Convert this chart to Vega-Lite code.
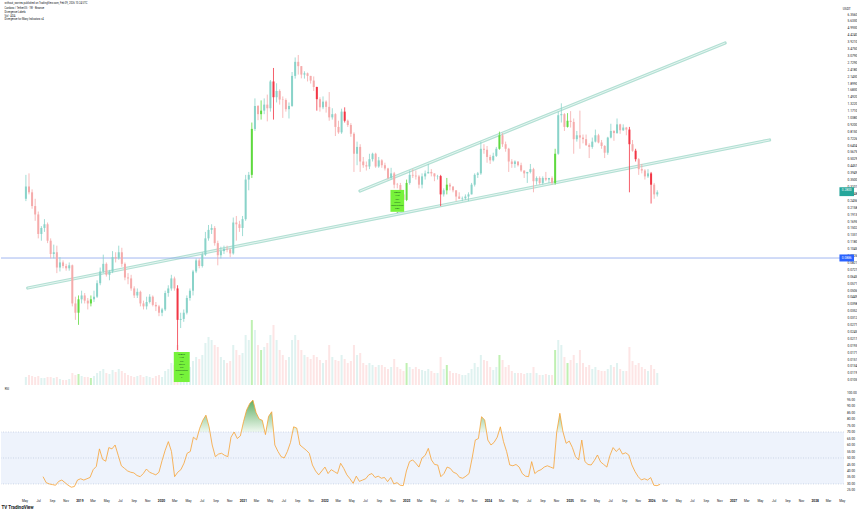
{
"$schema":"https://vega.github.io/schema/vega-lite/v6.json",
"padding":0,"spacing":0,"background":"white",
"config":{"view":{"stroke":null},"font":"Roboto","axis":{"grid":false,"domain":false,"ticks":false,"labelFont":"Roboto"}},
"datasets":{
"k":[
{"t":"2018-04-16","o":0.25,"h":0.38,"l":0.24,"c":0.31,"v":8},
{"t":"2018-04-30","o":0.31,"h":0.39,"l":0.27,"c":0.28,"v":10},
{"t":"2018-05-14","o":0.28,"h":0.295,"l":0.21,"c":0.22,"v":9},
{"t":"2018-05-28","o":0.22,"h":0.25,"l":0.17,"c":0.19,"v":8},
{"t":"2018-06-11","o":0.19,"h":0.2,"l":0.125,"c":0.135,"v":9},
{"t":"2018-06-25","o":0.135,"h":0.155,"l":0.12,"c":0.15,"v":7},
{"t":"2018-07-09","o":0.15,"h":0.175,"l":0.14,"c":0.16,"v":7},
{"t":"2018-07-23","o":0.16,"h":0.165,"l":0.115,"c":0.12,"v":8,"r":35.6},
{"t":"2018-08-06","o":0.12,"h":0.125,"l":0.088,"c":0.095,"v":8,"r":31},
{"t":"2018-08-20","o":0.095,"h":0.112,"l":0.088,"c":0.098,"v":7,"r":30},
{"t":"2018-09-03","o":0.098,"h":0.11,"l":0.068,"c":0.075,"v":8,"r":29.5},
{"t":"2018-09-17","o":0.075,"h":0.09,"l":0.07,"c":0.082,"v":6,"r":29},
{"t":"2018-10-01","o":0.082,"h":0.085,"l":0.074,"c":0.077,"v":5,"r":32},
{"t":"2018-10-15","o":0.077,"h":0.08,"l":0.071,"c":0.074,"v":5,"r":33},
{"t":"2018-10-29","o":0.074,"h":0.082,"l":0.071,"c":0.078,"v":6,"r":31},
{"t":"2018-11-12","o":0.078,"h":0.079,"l":0.038,"c":0.04,"v":12,"r":29},
{"t":"2018-11-26","o":0.04,"h":0.045,"l":0.03,"c":0.034,"v":10,"r":27.5},
{"t":"2018-12-10","o":0.034,"h":0.046,"l":0.0275,"c":0.043,"v":11,"r":28,"hl":1},
{"t":"2018-12-24","o":0.043,"h":0.05,"l":0.04,"c":0.046,"v":9,"r":33},
{"t":"2019-01-07","o":0.046,"h":0.048,"l":0.04,"c":0.042,"v":8,"r":34},
{"t":"2019-01-21","o":0.042,"h":0.044,"l":0.036,"c":0.04,"v":8,"r":33},
{"t":"2019-02-04","o":0.04,"h":0.046,"l":0.038,"c":0.043,"v":7,"r":34,"hl":1},
{"t":"2019-02-18","o":0.043,"h":0.05,"l":0.041,"c":0.045,"v":9,"r":35},
{"t":"2019-03-04","o":0.045,"h":0.06,"l":0.044,"c":0.057,"v":12,"r":41},
{"t":"2019-03-18","o":0.057,"h":0.075,"l":0.055,"c":0.07,"v":14,"r":43.5},
{"t":"2019-04-01","o":0.07,"h":0.094,"l":0.068,"c":0.08,"v":16,"r":57},
{"t":"2019-04-15","o":0.08,"h":0.082,"l":0.064,"c":0.066,"v":12,"r":49},
{"t":"2019-04-29","o":0.066,"h":0.072,"l":0.06,"c":0.07,"v":11,"r":47.5},
{"t":"2019-05-13","o":0.07,"h":0.1,"l":0.068,"c":0.09,"v":15,"r":58},
{"t":"2019-05-27","o":0.09,"h":0.098,"l":0.082,"c":0.088,"v":13,"r":57},
{"t":"2019-06-10","o":0.088,"h":0.11,"l":0.086,"c":0.098,"v":16,"r":60},
{"t":"2019-06-24","o":0.098,"h":0.106,"l":0.076,"c":0.08,"v":14,"r":52},
{"t":"2019-07-08","o":0.08,"h":0.082,"l":0.06,"c":0.063,"v":12,"r":44},
{"t":"2019-07-22","o":0.063,"h":0.068,"l":0.056,"c":0.062,"v":10,"r":42},
{"t":"2019-08-05","o":0.062,"h":0.066,"l":0.05,"c":0.052,"v":9,"r":40},
{"t":"2019-08-19","o":0.052,"h":0.054,"l":0.044,"c":0.046,"v":8,"r":39},
{"t":"2019-09-02","o":0.046,"h":0.052,"l":0.044,"c":0.049,"v":9,"r":38.5},
{"t":"2019-09-16","o":0.049,"h":0.05,"l":0.038,"c":0.04,"v":10,"r":36.5},
{"t":"2019-09-30","o":0.04,"h":0.042,"l":0.036,"c":0.038,"v":8,"r":35.6},
{"t":"2019-10-14","o":0.038,"h":0.045,"l":0.036,"c":0.041,"v":9,"r":38},
{"t":"2019-10-28","o":0.041,"h":0.047,"l":0.04,"c":0.045,"v":8,"r":41.5},
{"t":"2019-11-11","o":0.045,"h":0.046,"l":0.038,"c":0.039,"v":7,"r":39},
{"t":"2019-11-25","o":0.039,"h":0.041,"l":0.035,"c":0.038,"v":9,"r":38},
{"t":"2019-12-09","o":0.038,"h":0.039,"l":0.032,"c":0.034,"v":10,"r":37},
{"t":"2019-12-23","o":0.034,"h":0.037,"l":0.032,"c":0.036,"v":8,"r":39},
{"t":"2020-01-06","o":0.036,"h":0.05,"l":0.035,"c":0.048,"v":14,"r":48},
{"t":"2020-01-20","o":0.048,"h":0.055,"l":0.045,"c":0.052,"v":16,"r":56},
{"t":"2020-02-03","o":0.052,"h":0.066,"l":0.05,"c":0.062,"v":22,"r":62.6},
{"t":"2020-02-17","o":0.062,"h":0.064,"l":0.05,"c":0.052,"v":20,"r":55},
{"t":"2020-03-02","o":0.052,"h":0.055,"l":0.0177,"c":0.03,"v":40,"r":35.6,"hl":1},
{"t":"2020-03-16","o":0.03,"h":0.034,"l":0.026,"c":0.0305,"v":22,"r":39},
{"t":"2020-03-30","o":0.0305,"h":0.036,"l":0.029,"c":0.034,"v":18,"r":41},
{"t":"2020-04-13","o":0.034,"h":0.046,"l":0.033,"c":0.044,"v":16,"r":46},
{"t":"2020-04-27","o":0.044,"h":0.052,"l":0.042,"c":0.05,"v":18,"r":53.6},
{"t":"2020-05-11","o":0.05,"h":0.072,"l":0.046,"c":0.07,"v":24,"r":55},
{"t":"2020-05-25","o":0.07,"h":0.088,"l":0.068,"c":0.085,"v":28,"r":66},
{"t":"2020-06-08","o":0.085,"h":0.088,"l":0.074,"c":0.077,"v":26,"r":64},
{"t":"2020-06-22","o":0.077,"h":0.098,"l":0.075,"c":0.094,"v":30,"r":72.8},
{"t":"2020-07-06","o":0.094,"h":0.14,"l":0.092,"c":0.125,"v":42,"r":79},
{"t":"2020-07-20","o":0.125,"h":0.158,"l":0.12,"c":0.145,"v":48,"r":83},
{"t":"2020-08-03","o":0.145,"h":0.16,"l":0.135,"c":0.15,"v":45,"r":74},
{"t":"2020-08-17","o":0.15,"h":0.155,"l":0.11,"c":0.115,"v":40,"r":60},
{"t":"2020-08-31","o":0.115,"h":0.12,"l":0.078,"c":0.093,"v":38,"r":51},
{"t":"2020-09-14","o":0.093,"h":0.108,"l":0.088,"c":0.1,"v":28,"r":53},
{"t":"2020-09-28","o":0.1,"h":0.11,"l":0.095,"c":0.104,"v":25,"r":53.6},
{"t":"2020-10-12","o":0.104,"h":0.11,"l":0.098,"c":0.103,"v":22,"r":52},
{"t":"2020-10-26","o":0.103,"h":0.105,"l":0.09,"c":0.096,"v":24,"r":51},
{"t":"2020-11-09","o":0.096,"h":0.18,"l":0.094,"c":0.165,"v":40,"r":66},
{"t":"2020-11-23","o":0.165,"h":0.185,"l":0.12,"c":0.16,"v":35,"r":70},
{"t":"2020-12-07","o":0.16,"h":0.17,"l":0.14,"c":0.15,"v":30,"r":65},
{"t":"2020-12-21","o":0.15,"h":0.185,"l":0.13,"c":0.175,"v":32,"r":67},
{"t":"2021-01-04","o":0.175,"h":0.38,"l":0.17,"c":0.35,"v":50,"r":78},
{"t":"2021-01-18","o":0.35,"h":0.4,"l":0.29,"c":0.38,"v":45,"r":87},
{"t":"2021-02-01","o":0.38,"h":0.95,"l":0.36,"c":0.85,"v":65,"r":92,"hl":1},
{"t":"2021-02-15","o":0.85,"h":1.45,"l":0.82,"c":1.27,"v":55,"r":94.6},
{"t":"2021-03-01","o":1.27,"h":1.29,"l":0.99,"c":1.1,"v":40,"r":85},
{"t":"2021-03-15","o":1.1,"h":1.4,"l":1.0,"c":1.17,"v":35,"r":80,"hl":1},
{"t":"2021-03-29","o":1.17,"h":1.45,"l":1.1,"c":1.3,"v":38,"r":79},
{"t":"2021-04-12","o":1.3,"h":1.55,"l":0.97,"c":1.22,"v":42,"r":68},
{"t":"2021-04-26","o":1.22,"h":2.0,"l":1.15,"c":1.95,"v":50,"r":82},
{"t":"2021-05-10","o":1.95,"h":2.47,"l":1.0,"c":1.48,"v":60,"r":85.6,"hl":1},
{"t":"2021-05-24","o":1.48,"h":1.89,"l":1.35,"c":1.65,"v":45,"r":60},
{"t":"2021-06-07","o":1.65,"h":1.7,"l":1.3,"c":1.42,"v":35,"r":55},
{"t":"2021-06-21","o":1.42,"h":1.5,"l":1.03,"c":1.41,"v":30,"r":51},
{"t":"2021-07-05","o":1.41,"h":1.45,"l":1.15,"c":1.2,"v":25,"r":50},
{"t":"2021-07-19","o":1.2,"h":1.35,"l":1.02,"c":1.27,"v":28,"r":55},
{"t":"2021-08-02","o":1.27,"h":2.3,"l":1.25,"c":2.15,"v":45,"r":62},
{"t":"2021-08-16","o":2.15,"h":2.97,"l":2.05,"c":2.75,"v":50,"r":74},
{"t":"2021-08-30","o":2.75,"h":3.1,"l":2.2,"c":2.55,"v":45,"r":73},
{"t":"2021-09-13","o":2.55,"h":2.55,"l":2.06,"c":2.2,"v":35,"r":60},
{"t":"2021-09-27","o":2.2,"h":2.33,"l":2.05,"c":2.25,"v":30,"r":58},
{"t":"2021-10-11","o":2.25,"h":2.28,"l":1.95,"c":2.15,"v":28,"r":56},
{"t":"2021-10-25","o":2.15,"h":2.15,"l":1.88,"c":1.98,"v":26,"r":53.6},
{"t":"2021-11-08","o":1.98,"h":2.13,"l":1.65,"c":1.77,"v":30,"r":44.6},
{"t":"2021-11-22","o":1.77,"h":1.78,"l":1.17,"c":1.43,"v":28,"r":40,"hl":1},
{"t":"2021-12-06","o":1.43,"h":1.48,"l":1.15,"c":1.24,"v":25,"r":37},
{"t":"2021-12-20","o":1.24,"h":1.5,"l":1.2,"c":1.37,"v":22,"r":40},
{"t":"2022-01-03","o":1.37,"h":1.4,"l":1.13,"c":1.25,"v":25,"r":43},
{"t":"2022-01-17","o":1.25,"h":1.62,"l":0.98,"c":1.04,"v":40,"r":38},
{"t":"2022-01-31","o":1.04,"h":1.22,"l":1.0,"c":1.1,"v":28,"r":41},
{"t":"2022-02-14","o":1.1,"h":1.12,"l":0.75,"c":0.88,"v":25,"r":39.5},
{"t":"2022-02-28","o":0.88,"h":0.98,"l":0.78,"c":0.8,"v":24,"r":38},
{"t":"2022-03-14","o":0.8,"h":1.21,"l":0.78,"c":1.15,"v":30,"r":45.9},
{"t":"2022-03-28","o":1.15,"h":1.24,"l":0.95,"c":0.98,"v":26,"r":42,"hl":1},
{"t":"2022-04-11","o":0.98,"h":1.0,"l":0.88,"c":0.91,"v":22,"r":37},
{"t":"2022-04-25","o":0.91,"h":0.94,"l":0.74,"c":0.78,"v":24,"r":34},
{"t":"2022-05-09","o":0.78,"h":0.8,"l":0.4,"c":0.55,"v":40,"r":30.5},
{"t":"2022-05-23","o":0.55,"h":0.68,"l":0.45,"c":0.62,"v":30,"r":36},
{"t":"2022-06-06","o":0.62,"h":0.65,"l":0.4,"c":0.48,"v":32,"r":32},
{"t":"2022-06-20","o":0.48,"h":0.52,"l":0.43,"c":0.45,"v":22,"r":33},
{"t":"2022-07-04","o":0.45,"h":0.48,"l":0.41,"c":0.44,"v":20,"r":34},
{"t":"2022-07-18","o":0.44,"h":0.55,"l":0.42,"c":0.5,"v":22,"r":37},
{"t":"2022-08-01","o":0.5,"h":0.56,"l":0.48,"c":0.55,"v":20,"r":38},
{"t":"2022-08-15","o":0.55,"h":0.56,"l":0.43,"c":0.44,"v":18,"r":35},
{"t":"2022-08-29","o":0.44,"h":0.52,"l":0.43,"c":0.49,"v":20,"r":36},
{"t":"2022-09-12","o":0.49,"h":0.5,"l":0.43,"c":0.45,"v":20,"r":34.4},
{"t":"2022-09-26","o":0.45,"h":0.47,"l":0.41,"c":0.425,"v":18,"r":35},
{"t":"2022-10-10","o":0.425,"h":0.43,"l":0.35,"c":0.36,"v":16,"r":31.8},
{"t":"2022-10-24","o":0.36,"h":0.43,"l":0.35,"c":0.39,"v":18,"r":35},
{"t":"2022-11-07","o":0.39,"h":0.4,"l":0.3,"c":0.32,"v":26,"r":30},
{"t":"2022-11-21","o":0.32,"h":0.33,"l":0.3,"c":0.318,"v":18,"r":31},
{"t":"2022-12-05","o":0.318,"h":0.33,"l":0.26,"c":0.27,"v":16,"r":29},
{"t":"2022-12-19","o":0.27,"h":0.28,"l":0.24,"c":0.245,"v":14,"r":28.7},
{"t":"2023-01-02","o":0.245,"h":0.35,"l":0.24,"c":0.33,"v":22,"r":40,"hl":1},
{"t":"2023-01-16","o":0.33,"h":0.41,"l":0.32,"c":0.38,"v":18,"r":47.2},
{"t":"2023-01-30","o":0.38,"h":0.42,"l":0.36,"c":0.375,"v":16,"r":48.5},
{"t":"2023-02-13","o":0.375,"h":0.41,"l":0.35,"c":0.37,"v":18,"r":46},
{"t":"2023-02-27","o":0.37,"h":0.38,"l":0.3,"c":0.32,"v":16,"r":43},
{"t":"2023-03-13","o":0.32,"h":0.39,"l":0.3,"c":0.37,"v":15,"r":50},
{"t":"2023-03-27","o":0.37,"h":0.41,"l":0.35,"c":0.39,"v":14,"r":52},
{"t":"2023-04-10","o":0.39,"h":0.46,"l":0.39,"c":0.4,"v":16,"r":57.4},
{"t":"2023-04-24","o":0.4,"h":0.42,"l":0.37,"c":0.39,"v":14,"r":48.5},
{"t":"2023-05-08","o":0.39,"h":0.39,"l":0.34,"c":0.37,"v":12,"r":45},
{"t":"2023-05-22","o":0.37,"h":0.38,"l":0.35,"c":0.372,"v":12,"r":44.6},
{"t":"2023-06-05","o":0.372,"h":0.38,"l":0.22,"c":0.27,"v":28,"r":35.6,"hl":1},
{"t":"2023-06-19","o":0.27,"h":0.3,"l":0.26,"c":0.29,"v":16,"r":38},
{"t":"2023-07-03","o":0.29,"h":0.36,"l":0.27,"c":0.32,"v":20,"r":43,"hl":1},
{"t":"2023-07-17","o":0.32,"h":0.33,"l":0.29,"c":0.31,"v":14,"r":42},
{"t":"2023-07-31","o":0.31,"h":0.31,"l":0.28,"c":0.29,"v":12,"r":39},
{"t":"2023-08-14","o":0.29,"h":0.29,"l":0.24,"c":0.26,"v":12,"r":38},
{"t":"2023-08-28","o":0.26,"h":0.28,"l":0.25,"c":0.25,"v":11,"r":35},
{"t":"2023-09-11","o":0.25,"h":0.26,"l":0.24,"c":0.252,"v":10,"r":34.4},
{"t":"2023-09-25","o":0.252,"h":0.27,"l":0.245,"c":0.26,"v":10,"r":36},
{"t":"2023-10-09","o":0.26,"h":0.28,"l":0.24,"c":0.27,"v":12,"r":38},
{"t":"2023-10-23","o":0.27,"h":0.33,"l":0.27,"c":0.32,"v":16,"r":50},
{"t":"2023-11-06","o":0.32,"h":0.39,"l":0.31,"c":0.38,"v":22,"r":63.8},
{"t":"2023-11-20","o":0.38,"h":0.4,"l":0.36,"c":0.39,"v":18,"r":65},
{"t":"2023-12-04","o":0.39,"h":0.68,"l":0.38,"c":0.6,"v":30,"r":81.8},
{"t":"2023-12-18","o":0.6,"h":0.65,"l":0.55,"c":0.59,"v":25,"r":79.2},
{"t":"2024-01-01","o":0.59,"h":0.63,"l":0.47,"c":0.52,"v":24,"r":63.8},
{"t":"2024-01-15","o":0.52,"h":0.54,"l":0.46,"c":0.49,"v":18,"r":60},
{"t":"2024-01-29","o":0.49,"h":0.56,"l":0.48,"c":0.53,"v":15,"r":62},
{"t":"2024-02-12","o":0.53,"h":0.62,"l":0.52,"c":0.6,"v":18,"r":66},
{"t":"2024-02-26","o":0.6,"h":0.81,"l":0.59,"c":0.76,"v":30,"r":74,"hl":1},
{"t":"2024-03-11","o":0.76,"h":0.79,"l":0.62,"c":0.65,"v":25,"r":62.6},
{"t":"2024-03-25","o":0.65,"h":0.68,"l":0.57,"c":0.6,"v":18,"r":55},
{"t":"2024-04-08","o":0.6,"h":0.61,"l":0.4,"c":0.48,"v":20,"r":44.6},
{"t":"2024-04-22","o":0.48,"h":0.5,"l":0.43,"c":0.46,"v":14,"r":44},
{"t":"2024-05-06","o":0.46,"h":0.49,"l":0.43,"c":0.48,"v":12,"r":45},
{"t":"2024-05-20","o":0.48,"h":0.48,"l":0.44,"c":0.45,"v":12,"r":43},
{"t":"2024-06-03","o":0.45,"h":0.47,"l":0.4,"c":0.41,"v":12,"r":38},
{"t":"2024-06-17","o":0.41,"h":0.41,"l":0.36,"c":0.39,"v":11,"r":36},
{"t":"2024-07-01","o":0.39,"h":0.4,"l":0.33,"c":0.4,"v":12,"r":35.6},
{"t":"2024-07-15","o":0.4,"h":0.46,"l":0.39,"c":0.42,"v":12,"r":47.2},
{"t":"2024-07-29","o":0.42,"h":0.43,"l":0.28,"c":0.34,"v":18,"r":38},
{"t":"2024-08-12","o":0.34,"h":0.37,"l":0.32,"c":0.36,"v":12,"r":40},
{"t":"2024-08-26","o":0.36,"h":0.37,"l":0.32,"c":0.33,"v":10,"r":41},
{"t":"2024-09-09","o":0.33,"h":0.37,"l":0.32,"c":0.36,"v":10,"r":43},
{"t":"2024-09-23","o":0.36,"h":0.4,"l":0.34,"c":0.35,"v":11,"r":44},
{"t":"2024-10-07","o":0.35,"h":0.36,"l":0.33,"c":0.36,"v":10,"r":43},
{"t":"2024-10-21","o":0.36,"h":0.37,"l":0.32,"c":0.33,"v":10,"r":42},
{"t":"2024-11-04","o":0.33,"h":0.6,"l":0.32,"c":0.55,"v":35,"r":70,"hl":1},
{"t":"2024-11-18","o":0.55,"h":1.15,"l":0.54,"c":1.08,"v":45,"r":84.4},
{"t":"2024-12-02","o":1.08,"h":1.33,"l":0.95,"c":1.1,"v":40,"r":70},
{"t":"2024-12-16","o":1.1,"h":1.12,"l":0.82,"c":0.88,"v":28,"r":61.3},
{"t":"2024-12-30","o":0.88,"h":1.12,"l":0.87,"c":0.98,"v":22,"r":63,"hl":1},
{"t":"2025-01-13","o":0.98,"h":1.16,"l":0.87,"c":0.96,"v":25,"r":58},
{"t":"2025-01-27","o":0.96,"h":1.02,"l":0.55,"c":0.71,"v":30,"r":51},
{"t":"2025-02-10","o":0.71,"h":0.82,"l":0.68,"c":0.76,"v":22,"r":48.5},
{"t":"2025-02-24","o":0.76,"h":1.17,"l":0.6,"c":0.73,"v":35,"r":63.8},
{"t":"2025-03-10","o":0.73,"h":0.77,"l":0.66,"c":0.71,"v":22,"r":47.2},
{"t":"2025-03-24","o":0.71,"h":0.77,"l":0.63,"c":0.64,"v":18,"r":45},
{"t":"2025-04-07","o":0.64,"h":0.66,"l":0.51,"c":0.62,"v":20,"r":44.6},
{"t":"2025-04-21","o":0.62,"h":0.73,"l":0.6,"c":0.68,"v":16,"r":48},
{"t":"2025-05-05","o":0.68,"h":0.84,"l":0.67,"c":0.76,"v":18,"r":52.3},
{"t":"2025-05-19","o":0.76,"h":0.78,"l":0.66,"c":0.67,"v":15,"r":47},
{"t":"2025-06-02","o":0.67,"h":0.7,"l":0.6,"c":0.63,"v":14,"r":45},
{"t":"2025-06-16","o":0.63,"h":0.64,"l":0.51,"c":0.56,"v":14,"r":43},
{"t":"2025-06-30","o":0.56,"h":0.74,"l":0.54,"c":0.73,"v":16,"r":52},
{"t":"2025-07-14","o":0.73,"h":0.93,"l":0.72,"c":0.82,"v":20,"r":58},
{"t":"2025-07-28","o":0.82,"h":0.83,"l":0.69,"c":0.79,"v":18,"r":55},
{"t":"2025-08-11","o":0.79,"h":1.02,"l":0.78,"c":0.92,"v":22,"r":57.4},
{"t":"2025-08-25","o":0.92,"h":0.93,"l":0.78,"c":0.83,"v":16,"r":53},
{"t":"2025-09-08","o":0.83,"h":0.92,"l":0.82,"c":0.87,"v":14,"r":54},
{"t":"2025-09-22","o":0.87,"h":0.88,"l":0.76,"c":0.84,"v":14,"r":52.3},
{"t":"2025-10-06","o":0.84,"h":0.88,"l":0.28,"c":0.65,"v":38,"r":44.6,"hl":1},
{"t":"2025-10-20","o":0.65,"h":0.7,"l":0.57,"c":0.58,"v":24,"r":39.5},
{"t":"2025-11-03","o":0.58,"h":0.6,"l":0.48,"c":0.5,"v":20,"r":35.6,"hl":1},
{"t":"2025-11-17","o":0.5,"h":0.51,"l":0.38,"c":0.42,"v":22,"r":33.1},
{"t":"2025-12-01","o":0.42,"h":0.46,"l":0.39,"c":0.41,"v":18,"r":34},
{"t":"2025-12-15","o":0.41,"h":0.42,"l":0.35,"c":0.37,"v":16,"r":33},
{"t":"2025-12-29","o":0.37,"h":0.42,"l":0.36,"c":0.39,"v":14,"r":34.9},
{"t":"2026-01-12","o":0.39,"h":0.4,"l":0.23,"c":0.32,"v":20,"r":29,"hl":1},
{"t":"2026-01-26","o":0.32,"h":0.33,"l":0.25,"c":0.27,"v":16,"r":28.7},
{"t":"2026-02-09","o":0.27,"h":0.29,"l":0.26,"c":0.28,"v":12,"r":29.7}
],
"tr":[
{"id":"a","t":"2018-04-24","p":0.0524},{"id":"a","t":"2027-07-02","p":0.7},
{"id":"b","t":"2022-06-05","p":0.2865},{"id":"b","t":"2026-12-13","p":3.825}
],
"lbl":[
{"t1":"2020-02-14","t2":"2020-04-26","tm":"2020-03-21","p1":0.0101,"p2":0.0171,"txt":"MACD\nHist\nRSI\nStoch\nCCI\nMomentum\nOBV\n7"},
{"t1":"2022-10-21","t2":"2022-12-22","tm":"2022-11-21","p1":0.199,"p2":0.292,"txt":"MACD\nHist\nRSI\nStoch\nMomentum\nOBV\n6"}
],
"lv":[{"lv":70},{"lv":50},{"lv":30}],
"rl":[{"lv":25},{"lv":30},{"lv":35},{"lv":40},{"lv":45},{"lv":50},{"lv":55},{"lv":60},{"lv":65},{"lv":70},{"lv":75},{"lv":80},{"lv":85},{"lv":90},{"lv":95},{"lv":100}]
},
"vconcat":[
{
"width":843,"height":385,
"title":{"text":"without_worries published on TradingView.com, Feb 09, 2026 10:24 UTC","subtitle":["Cardano / TetherUS · 1W · Binance","Divergence Labels","Vol · ADA","Divergence for Many Indicators v4"],"anchor":"start","offset":-21,"dx":4,"fontSize":2.6,"fontWeight":"normal","color":"#131722","font":"Roboto","subtitleFont":"Roboto","subtitleFontSize":2.6,"subtitleColor":"#131722","subtitleLineHeight":3.8,"subtitlePadding":1.6},
"resolve":{"scale":{"y":"independent"}},
"layer":[
{"data":{"name":"k"},"mark":{"type":"bar","width":2},
"encoding":{
"x":{"field":"t","type":"temporal","scale":{"type":"utc","domain":[{"year":2018,"month":1,"date":16,"utc":true},{"year":2028,"month":5,"date":11,"utc":true}]},"axis":null},
"y":{"field":"v","type":"quantitative","scale":{"domain":[0,385],"nice":false},"axis":null},
"color":{"condition":[{"test":"datum.hl==1 && datum.c>=datum.o","value":"#5fd93f"},{"test":"datum.c>=datum.o","value":"#26a69a"}],"value":"#ef5350"},
"opacity":{"condition":{"test":"datum.hl==1 && datum.c>=datum.o","value":0.4},"value":0.15}}},
{"layer":[
{"data":{"name":"tr"},"mark":{"type":"line","strokeWidth":3.2,"color":"#b3e0d4","strokeCap":"round"},
"encoding":{"x":{"field":"t","type":"temporal","scale":{"type":"utc","domain":[{"year":2018,"month":1,"date":16,"utc":true},{"year":2028,"month":5,"date":11,"utc":true}]},"axis":null},
"y":{"field":"p","type":"quantitative","scale":{"type":"log","domain":[0.00959,8.12],"nice":false,"zero":false},"axis":{"orient":"right","values":[6.356,5.633,4.993,4.424,3.921,3.475,3.079,2.729,2.418,2.143,1.899,1.683,1.492,1.322,1.171,1.038,0.92,0.815,0.7226,0.6404,0.5675,0.5029,0.4457,0.3949,0.35,0.3101,0.2748,0.2436,0.2158,0.1913,0.1695,0.1502,0.1331,0.118,0.1045,0.0926,0.0821,0.0727,0.0645,0.0571,0.0506,0.0449,0.0398,0.0352,0.0312,0.0277,0.0245,0.0217,0.0193,0.0171,0.0151,0.0134,0.0119,0.0105],"format":".4f","labelFontSize":3.2,"labelColor":"#131722","labelPadding":3,"labelOverlap":false,"title":null}},
"detail":{"field":"id"}}},
{"data":{"name":"tr"},"mark":{"type":"line","strokeWidth":1,"color":"#e6f5f1"},
"encoding":{"x":{"field":"t","type":"temporal"},"y":{"field":"p","type":"quantitative"},"detail":{"field":"id"}}},
{"data":{"values":[{}]},"mark":{"type":"rule","color":"#8aa6ec","strokeWidth":0.8},
"encoding":{"y":{"datum":0.0886,"type":"quantitative"}}},
{"data":{"name":"k"},"mark":{"type":"rule","strokeWidth":0.8},
"encoding":{"x":{"field":"t","type":"temporal"},"y":{"field":"l","type":"quantitative"},"y2":{"field":"h"},
"color":{"condition":[{"test":"datum.hl==1 && datum.c>=datum.o","value":"#5fd93f"},{"test":"datum.hl==1","value":"#f23645"},{"test":"datum.c>=datum.o","value":"#89d3c9"}],"value":"#f5abab"}}},
{"data":{"name":"k"},"mark":{"type":"bar","width":2},
"encoding":{"x":{"field":"t","type":"temporal"},"y":{"field":"o","type":"quantitative"},"y2":{"field":"c"},
"color":{"condition":[{"test":"datum.hl==1 && datum.c>=datum.o","value":"#5fd93f"},{"test":"datum.hl==1","value":"#f23645"},{"test":"datum.c>=datum.o","value":"#89d3c9"}],"value":"#f5abab"}}},
{"data":{"name":"lbl"},"mark":{"type":"rect","color":"#76f23a"},
"encoding":{"x":{"field":"t1","type":"temporal"},"x2":{"field":"t2"},"y":{"field":"p1","type":"quantitative"},"y2":{"field":"p2"}}},
{"data":{"name":"lbl"},"mark":{"type":"text","baseline":"top","align":"center","fontSize":2.4,"lineHeight":3.3,"lineBreak":"\n","color":"#1b5e20","dy":1},
"encoding":{"x":{"field":"tm","type":"temporal"},"y":{"field":"p2","type":"quantitative"},"text":{"field":"txt"}}},
{"data":{"values":[{}]},"mark":{"type":"rect","color":"#2962ff"},
"encoding":{"x":{"datum":{"year":2028,"month":5,"date":13,"utc":true},"type":"temporal"},"x2":{"datum":{"year":2028,"month":7,"date":18,"utc":true}},"y":{"datum":0.0834,"type":"quantitative"},"y2":{"datum":0.0943}}},
{"data":{"values":[{}]},"mark":{"type":"text","color":"white","fontSize":3.2,"align":"center","baseline":"middle"},
"encoding":{"x":{"datum":{"year":2028,"month":6,"date":15,"utc":true},"type":"temporal"},"y":{"datum":0.0886,"type":"quantitative"},"text":{"value":"0.0886"}}},
{"data":{"values":[{}]},"mark":{"type":"rect","color":"#26a69a"},
"encoding":{"x":{"datum":{"year":2028,"month":5,"date":13,"utc":true},"type":"temporal"},"x2":{"datum":{"year":2028,"month":7,"date":18,"utc":true}},"y":{"datum":0.262,"type":"quantitative"},"y2":{"datum":0.306}}},
{"data":{"values":[{}]},"mark":{"type":"text","color":"white","fontSize":3.2,"align":"center","baseline":"middle"},
"encoding":{"x":{"datum":{"year":2028,"month":6,"date":15,"utc":true},"type":"temporal"},"y":{"datum":0.29,"type":"quantitative"},"text":{"value":"0.2800"}}},
{"data":{"values":[{}]},"mark":{"type":"text","color":"#131722","fontSize":3.2,"align":"center","baseline":"middle"},
"encoding":{"x":{"datum":{"year":2028,"month":6,"date":15,"utc":true},"type":"temporal"},"y":{"datum":6.94,"type":"quantitative"},"text":{"value":"USDT"}}}
]}
]
},
{
"width":843,"height":107,
"title":{"text":"RSI","anchor":"start","offset":-6,"dx":4,"fontSize":3,"fontWeight":"normal","color":"#131722","font":"Roboto"},
"layer":[
{"data":{"values":[{}]},"mark":{"type":"rect","color":"#eef3fc"},
"encoding":{"x":{"datum":{"year":2018,"month":1,"date":16,"utc":true},"type":"temporal","scale":{"type":"utc","domain":[{"year":2018,"month":1,"date":16,"utc":true},{"year":2028,"month":5,"date":11,"utc":true}]},
"axis":{"tickCount":{"interval":"month","step":2},"labelExpr":"datum.value < utc(2018,3,1) ? '' : (utcmonth(datum.value) == 0 ? utcFormat(datum.value, '%Y') : utcFormat(datum.value, '%b'))","labelFontWeight":{"condition":{"test":"utcmonth(datum.value) == 0","value":"bold"},"value":"normal"},"labelFontSize":3.2,"labelColor":"#131722","labelPadding":6,"labelOverlap":false,"labelFlush":false,"title":"TV  TradingView","titleAnchor":"start","titleAlign":"left","titleFontSize":4.5,"titleFontWeight":"bold","titleColor":"#131722","titlePadding":3,"titleFont":"Roboto"}},
"x2":{"datum":{"year":2028,"month":5,"date":11,"utc":true}},
"y":{"datum":70,"type":"quantitative","scale":{"domain":[23.8,106.2],"nice":false,"zero":false},"axis":null},
"y2":{"datum":30}}},
{"data":{"name":"k"},"mark":{"type":"area","fillOpacity":0.85,"color":{"gradient":"linear","x1":0,"y1":0,"x2":0,"y2":1,"stops":[{"offset":0,"color":"#43a047"},{"offset":0.36,"color":"#eaf6ea"}]}},
"encoding":{"x":{"field":"t","type":"temporal"},"y":{"field":"r","type":"quantitative","axis":null},"y2":{"datum":70}}},
{"data":{"values":[{}]},"mark":{"type":"rect","color":"#eef3fc"},
"encoding":{"x":{"datum":{"year":2018,"month":1,"date":16,"utc":true},"type":"temporal"},"x2":{"datum":{"year":2028,"month":5,"date":11,"utc":true}},"y":{"datum":70,"type":"quantitative","axis":null},"y2":{"datum":30}}},
{"data":{"values":[{}]},"mark":{"type":"rect","color":"white"},
"encoding":{"x":{"datum":{"year":2018,"month":1,"date":16,"utc":true},"type":"temporal"},"x2":{"datum":{"year":2028,"month":5,"date":11,"utc":true}},"y":{"datum":30,"type":"quantitative","axis":null},"y2":{"datum":23.8}}},
{"data":{"name":"lv"},"mark":{"type":"rule","color":"#b4bfd6","strokeWidth":0.6,"strokeDash":[1,1.5]},
"encoding":{"y":{"field":"lv","type":"quantitative","axis":null}}},
{"data":{"name":"k"},"mark":{"type":"line","color":"#f7a233","strokeWidth":0.8},
"encoding":{"x":{"field":"t","type":"temporal"},"y":{"field":"r","type":"quantitative","axis":null}}},
{"data":{"name":"rl"},"mark":{"type":"text","align":"left","baseline":"middle","fontSize":3.2,"color":"#131722","dx":3},
"encoding":{"x":{"datum":{"year":2028,"month":5,"date":11,"utc":true},"type":"temporal"},"y":{"field":"lv","type":"quantitative","axis":null},"text":{"field":"lv","type":"quantitative","format":".2f"}}}
]
}
]
}
